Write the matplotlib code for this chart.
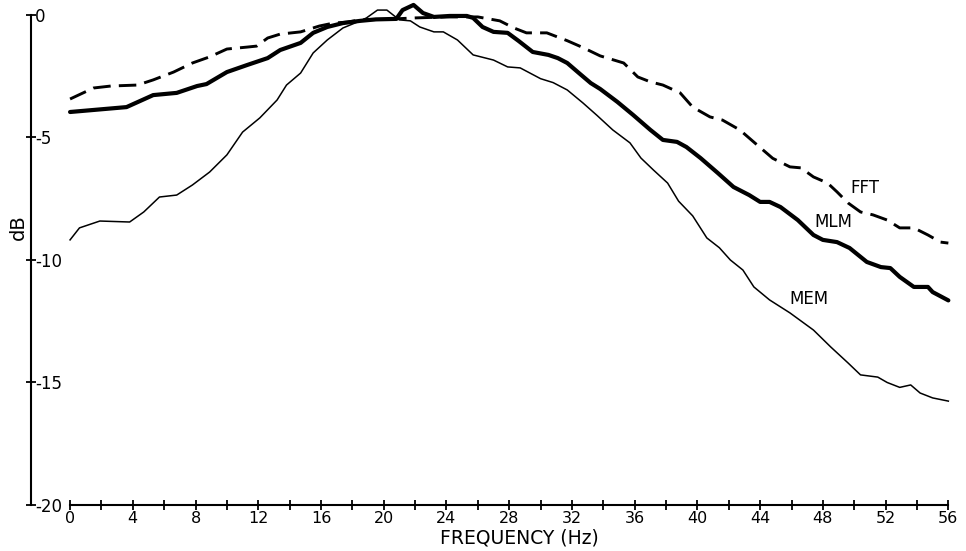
import numpy as np
import matplotlib
matplotlib.use("Agg")
from matplotlib import pyplot as plt

# spectra read in dB vs frequency (Hz)
fft_f = [0, 1.5, 2.6, 4.3, 5.3, 6.6, 7.8, 8.9, 10.0, 11.3, 11.9, 12.6, 13.4, 14.7, 15.9, 16.8, 17.7, 18.5,
         20, 22, 24, 26, 27.4, 28.3, 29.1, 30.4, 31.7, 32.7, 33.8, 35.3, 36.2, 37.0, 37.8, 38.9, 39.7,
         40.8, 41.6, 42.7, 43.8, 44.8, 45.9, 46.6, 47.4, 48.3, 48.9, 49.6, 50.4, 51.2, 52.1, 52.9, 53.8,
         54.7, 55.5, 56]
fft_db = [-3.43, -2.98, -2.90, -2.86, -2.65, -2.33, -1.96, -1.71, -1.39, -1.31, -1.27, -0.94, -0.78, -0.69,
          -0.45, -0.33, -0.29, -0.2, -0.18, -0.12, -0.08, -0.08, -0.24, -0.53, -0.73, -0.73, -1.05, -1.33,
          -1.67, -1.96, -2.53, -2.73, -2.86, -3.18, -3.76, -4.16, -4.29, -4.69, -5.3, -5.85, -6.2, -6.24,
          -6.61, -6.86, -7.22, -7.67, -8.04, -8.16, -8.37, -8.69, -8.69, -8.98, -9.27, -9.31]

mlm_f = [0, 3.6, 5.3, 6.8, 8.1, 8.7, 10.0, 11.3, 12.6, 13.4, 14.7, 15.5, 16.4, 17.4, 18.5, 19.5, 20.8,
         21.2, 21.9, 22.5, 23.2, 24.2, 25.3, 25.7, 26.3, 27.0, 27.9, 28.6, 29.5, 30.5, 31.1, 31.7, 32.5,
         33.2, 33.8, 34.9, 35.9, 37.0, 37.8, 38.7, 39.3, 40.2, 41.3, 42.3, 43.3, 44.0, 44.6, 45.3, 46.4,
         47.4, 48.0, 48.9, 49.7, 50.8, 51.7, 52.3, 52.9, 53.8, 54.7, 55.0, 56]
mlm_db = [-3.96, -3.76, -3.27, -3.18, -2.90, -2.82, -2.33, -2.04, -1.76, -1.43, -1.14, -0.73, -0.49, -0.33,
          -0.24, -0.18, -0.16, 0.2, 0.41, 0.08, -0.08, -0.04, -0.04, -0.12, -0.49, -0.69, -0.73, -1.06,
          -1.51, -1.63, -1.76, -1.96, -2.4, -2.78, -3.02, -3.55, -4.08, -4.69, -5.10, -5.18, -5.39, -5.84,
          -6.45, -7.02, -7.35, -7.63, -7.63, -7.84, -8.37, -8.98, -9.18, -9.27, -9.51, -10.08, -10.29,
          -10.33, -10.69, -11.1, -11.1, -11.31, -11.65]

mem_f = [0, 0.6, 1.9, 3.8, 4.7, 5.7, 6.8, 7.8, 8.9, 10.0, 11.0, 12.1, 13.2, 13.8, 14.7, 15.5, 16.4, 17.4,
         18.5, 18.9, 19.6, 20.2, 20.6, 21.0, 21.7, 22.3, 23.2, 23.8, 24.7, 25.7, 27.0, 27.9, 28.7, 30.0,
         30.8, 31.7, 32.7, 33.6, 34.6, 35.7, 36.4, 37.2, 38.1, 38.8, 39.7, 40.6, 41.4, 42.1, 42.9, 43.6,
         44.6, 45.9, 47.4, 48.5, 49.6, 50.4, 51.5, 52.1, 52.9, 53.6, 54.2, 55.0, 56]
mem_db = [-9.18, -8.69, -8.41, -8.45, -8.04, -7.43, -7.35, -6.94, -6.41, -5.71, -4.78, -4.20, -3.47, -2.86,
          -2.37, -1.55, -1.02, -0.53, -0.24, -0.12, 0.2, 0.2, 0.0, -0.2, -0.24, -0.49, -0.69, -0.69, -1.02,
          -1.63, -1.84, -2.12, -2.16, -2.6, -2.76, -3.06, -3.59, -4.1, -4.69, -5.22, -5.84, -6.33, -6.86,
          -7.6, -8.2, -9.1, -9.5, -10.0, -10.41, -11.1, -11.63, -12.16, -12.86, -13.55, -14.2, -14.69,
          -14.78, -15.0, -15.2, -15.1, -15.43, -15.63, -15.76]

x_major = np.arange(0, 57, 2)
x_labels = [str(v) if v % 4 == 0 else "" for v in x_major]
y_ticks = [0, -5, -10, -15, -20]

fig = plt.figure(figsize=(9.66, 5.51), dpi=100)
ax = fig.add_axes([0.0321, 0.0835, 0.9545, 0.916])

ax.plot(fft_f, fft_db, color="black", lw=2.1, dashes=(6, 2.8), solid_capstyle="butt")
ax.plot(mlm_f, mlm_db, color="black", lw=3.0, solid_joinstyle="round", solid_capstyle="round")
ax.plot(mem_f, mem_db, color="black", lw=1.1)

ax.text(50.7, -7.06, "FFT", fontsize=12, ha="center", va="center")
ax.text(48.7, -8.45, "MLM", fontsize=12, ha="center", va="center")
ax.text(47.1, -11.6, "MEM", fontsize=12, ha="center", va="center")

ax.set_xlim(-2.49, 56.3)
ax.set_ylim(-20, 0.6)
ax.spines["top"].set_visible(False)
ax.spines["right"].set_visible(False)
ax.spines["left"].set_bounds(-20, 0)
ax.spines["bottom"].set_bounds(0, 56)
ax.spines["left"].set_linewidth(1.5)
ax.spines["bottom"].set_linewidth(1.5)

ax.set_xticks(x_major)
ax.set_xticklabels(x_labels)
ax.set_yticks(y_ticks)
ax.set_yticklabels(["0", "-5", "-10", "-15", "-20"])
ax.tick_params(axis="both", direction="inout", length=7, width=1.3, labelsize=12)
ax.tick_params(axis="x", pad=0.5, labelsize=11.5)
ax.tick_params(axis="y", pad=-6.5)
for t in ax.get_yticklabels():
    t.set_horizontalalignment("left")

ax.text(0.530, -0.066, "FREQUENCY (Hz)", transform=ax.transAxes, fontsize=13.5, ha="center", va="center")
ax.text(-0.0141, 0.551, "dB", transform=ax.transAxes, fontsize=14, rotation=90, ha="center", va="center")

fig.savefig("out.png", dpi=100)
